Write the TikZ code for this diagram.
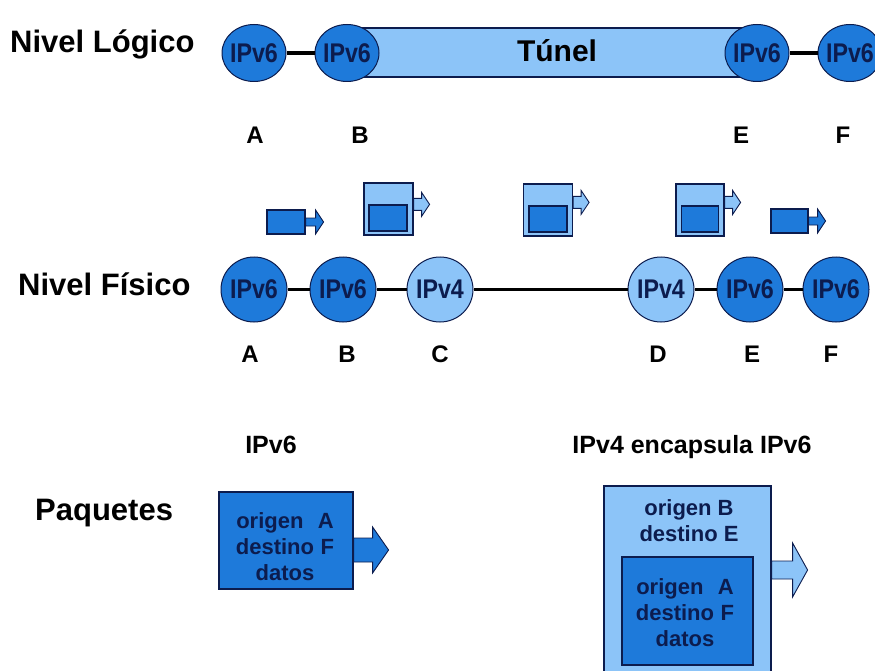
\documentclass[tikz,border=0pt]{standalone}
\usepackage{fontspec}
\setmainfont{Liberation Sans}
\newfontfamily\condfont[FakeStretch=0.86]{Liberation Sans}
\usetikzlibrary{shapes.geometric}
\definecolor{dkblue}{RGB}{30,122,218}
\definecolor{ltblue}{RGB}{140,196,248}
\definecolor{navy}{RGB}{12,28,78}
% #1 start coordinate, #2 fill, #3 shaft length, #4 shaft half-height, #5 head length, #6 head half-height
\newcommand\pktarrow[6]{%
  \draw[line width=0.9pt, draw=navy, fill=#2, line join=miter] #1 ++(0,-#4) -- ++(#3,0) -- ++(0,{#4-#6}) -- ++(#5,#6) -- ++(-#5,#6) -- ++(0,{#4-#6}) -- ++(-#3,0) -- cycle;}
\begin{document}
\begin{tikzpicture}[x=1pt,y=-1pt,
  biglbl/.style={font=\fontsize{31}{36}\selectfont\bfseries, anchor=base west, inner sep=0},
  letter/.style={font=\fontsize{24}{28}\selectfont\bfseries, inner sep=0, anchor=base},
  hostsix/.style={ellipse, draw=navy, line width=1pt, fill=dkblue, text=navy, inner sep=-12pt,
    font=\condfont\fontsize{27}{30}\selectfont\bfseries},
  hostfour/.style={hostsix, fill=ltblue},
  toprow/.style={minimum width=64pt, minimum height=57pt},
  midrow/.style={minimum width=66pt, minimum height=65pt},
  link/.style={line width=4pt, black},
  pkdark/.style={rectangle, draw=navy, line width=1.2pt, fill=dkblue, inner sep=0},
  pklight/.style={rectangle, draw=navy, line width=1.2pt, fill=ltblue, inner sep=0},
  boxtxt/.style={font=\fontsize{22}{26}\selectfont\bfseries, text=navy, align=center, inner sep=0},
  headtxt/.style={font=\fontsize{25}{30}\selectfont\bfseries, inner sep=0, anchor=base}
]
\useasboundingbox (0,0) rectangle (875,671);
\clip (0,0) rectangle (875,671);

% ---------- Nivel Logico ----------
\node[biglbl] (lvl1) at (10,53) {Nivel Lógico};
\node[rectangle, draw=navy, line width=1.2pt, fill=ltblue, minimum width=410pt, minimum height=49pt, inner sep=0] (tun) at (552,52.5) {};
\node[font=\fontsize{30}{34}\selectfont\bfseries, anchor=base, inner sep=0] (tunlbl) at (557,62) {Túnel};
\node[hostsix, toprow] (tA) at (254,53) {IPv6};
\node[hostsix, toprow] (tB) at (347,53) {IPv6};
\node[hostsix, toprow] (tE) at (757,53) {IPv6};
\node[hostsix, toprow] (tF) at (850,53) {IPv6};
\draw[link] (tA) -- (tB);
\draw[link] (tE) -- (tF);
\node[letter] (ltA) at (255,144) {A};
\node[letter] (ltB) at (360,144) {B};
\node[letter] (ltE) at (741,144) {E};
\node[letter] (ltF) at (843,144) {F};

% ---------- packets travelling ----------
\node[pkdark, minimum width=38pt, minimum height=24pt] (p1) at (286,222) {};
\pktarrow{(p1.east)}{dkblue}{10}{4}{8}{12}

\node[pklight, minimum width=49pt, minimum height=52pt] (p2) at (388.5,209) {};
\node[pkdark, minimum width=38pt, minimum height=26pt] (p2in) at (388,218) {};
\coordinate (p2a) at ([yshift=-22pt]p2.north east);
\pktarrow{(p2a)}{ltblue}{8}{6}{8}{12}

\node[pklight, minimum width=49pt, minimum height=52pt] (p3) at (548,210) {};
\node[pkdark, minimum width=38pt, minimum height=26pt] (p3in) at (548,219) {};
\coordinate (p3a) at ([yshift=-19pt]p3.north east);
\pktarrow{(p3a)}{ltblue}{8}{6}{8}{12}

\node[pklight, minimum width=48pt, minimum height=52pt] (p4) at (700,210) {};
\node[pkdark, minimum width=37pt, minimum height=26pt] (p4in) at (700,219) {};
\coordinate (p4a) at ([yshift=-19pt]p4.north east);
\pktarrow{(p4a)}{ltblue}{8}{6}{8}{12}

\node[pkdark, minimum width=37pt, minimum height=24pt] (p5) at (789.5,221) {};
\pktarrow{(p5.east)}{dkblue}{9}{4}{8}{12}

% ---------- Nivel Fisico ----------
\node[biglbl] (lvl2) at (18,295) {Nivel Físico};
\node[hostsix, midrow] (mA) at (254,289.5) {IPv6};
\node[hostsix, midrow] (mB) at (343,289.5) {IPv6};
\node[hostfour, midrow] (mC) at (440,289.5) {IPv4};
\node[hostfour, midrow] (mD) at (661,289.5) {IPv4};
\node[hostsix, midrow] (mE) at (750,289.5) {IPv6};
\node[hostsix, midrow] (mF) at (836,289.5) {IPv6};
\draw[line width=3pt] (mA) -- (mB) (mB) -- (mC) (mC) -- (mD) (mD) -- (mE) (mE) -- (mF);
\node[letter] (lmA) at (250,362) {A};
\node[letter] (lmB) at (347,362) {B};
\node[letter] (lmC) at (440,362) {C};
\node[letter] (lmD) at (658,362) {D};
\node[letter] (lmE) at (752,362) {E};
\node[letter] (lmF) at (831,362) {F};

% ---------- Paquetes ----------
\node[biglbl] (lvl3) at (35,520) {Paquetes};
\node[headtxt] (h6) at (271,453) {IPv6};
\node[headtxt] (h4) at (692,453) {IPv4 encapsula IPv6};

\node[pkdark, minimum width=134pt, minimum height=97pt] (lpk) at (286,540.5) {};
\node[boxtxt] (ltxt) at (285,547) {origen\hspace{0.65em}A\\destino\hspace{0.3em}F\\datos};
\coordinate (lpa) at (lpk.east |- 0,550);
\pktarrow{(lpa)}{dkblue}{19}{12}{16}{23}

\node[pklight, minimum width=167pt, minimum height=204pt] (rpk) at (687.5,588) {};
\node[boxtxt] (rtxt) at (689,521) {origen B\\destino E};
\node[pkdark, minimum width=131pt, minimum height=108pt] (rpkin) at (687.5,611) {};
\node[boxtxt] (ritxt) at (685,613) {origen\hspace{0.65em}A\\destino\hspace{0.3em}F\\datos};
\coordinate (rpa) at (rpk.east |- 0,570);
\pktarrow{(rpa)}{ltblue}{21}{9}{15}{27}
\end{tikzpicture}
\end{document}
